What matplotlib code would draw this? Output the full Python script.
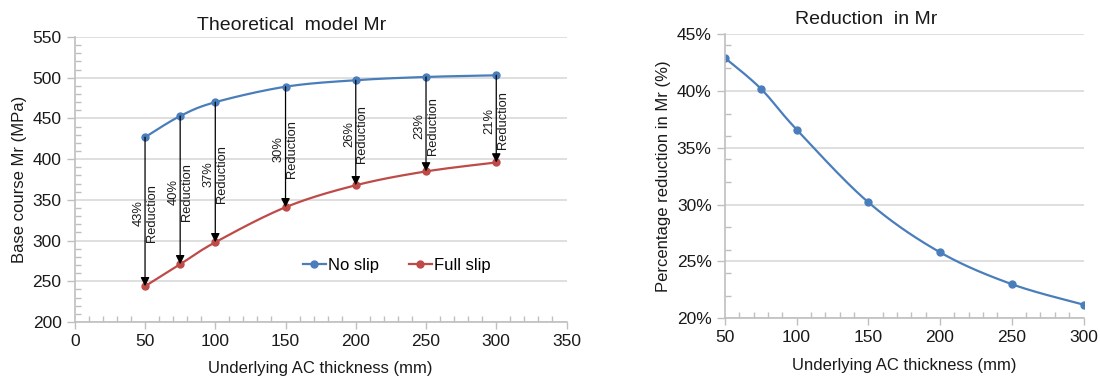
import numpy as np
import matplotlib.pyplot as plt
from matplotlib.ticker import MultipleLocator, PercentFormatter

plt.rcParams['font.family'] = ['Liberation Sans', 'DejaVu Sans']

thickness = [50, 75, 100, 150, 200, 250, 300]
no_slip = [427, 453, 470, 489, 497, 501, 503]
full_slip = [244, 271, 298, 341, 368, 385, 396]
reduction_pct = [42.9, 40.2, 36.6, 30.2, 25.8, 23.0, 21.2]

BLUE = '#4a7ebb'
RED = '#be4b48'
AXC = '#bfbfbf'
GRID = '#d9d9d9'
TXT = '#1a1a1a'


def smooth(x, y, n=30):
    # excel-like smoothed line (catmull-rom through the points)
    p = np.column_stack([x, y]).astype(float)
    p = np.vstack([p[0], p, p[-1]])
    out = []
    for i in range(1, len(p) - 2):
        p0, p1, p2, p3 = p[i - 1], p[i], p[i + 1], p[i + 2]
        t = np.linspace(0, 1, n)[:, None]
        c = 0.5 * ((2 * p1) + (-p0 + p2) * t + (2 * p0 - 5 * p1 + 4 * p2 - p3) * t ** 2
                   + (-p0 + 3 * p1 - 3 * p2 + p3) * t ** 3)
        out.append(c)
    c = np.vstack(out)
    return c[:, 0], c[:, 1]


def style_axes(ax):
    for s in ['top', 'right']:
        ax.spines[s].set_visible(False)
    for s in ['left', 'bottom']:
        ax.spines[s].set_color(AXC)
        ax.spines[s].set_linewidth(1.2)
    ax.grid(axis='y', color=GRID, lw=1.2)
    ax.set_axisbelow(True)
    ax.tick_params(which='major', direction='out', length=5, color=AXC, width=1,
                   labelsize=12.5, labelcolor=TXT)
    ax.tick_params(which='minor', direction='in', length=4, color=AXC, width=1)
    ax.tick_params(axis='y', which='major', length=6)


fig = plt.figure(figsize=(11, 3.78), dpi=100)

# ---- left: theoretical model
ax1 = fig.add_axes([0.068, 0.148, 0.447, 0.754])
style_axes(ax1)
sx, sy = smooth(thickness, no_slip)
ax1.plot(sx, sy, color=BLUE, lw=1.6)
ax1.plot(thickness, no_slip, 'o', color=BLUE, ms=5)
sx, sy = smooth(thickness, full_slip)
ax1.plot(sx, sy, color=RED, lw=1.6)
ax1.plot(thickness, full_slip, 'o', color=RED, ms=5)
# legend proxies
ax1.plot([], [], '-o', color=BLUE, ms=5, lw=1.6, label='No slip')
ax1.plot([], [], '-o', color=RED, ms=5, lw=1.6, label='Full slip')

for x, a, b in zip(thickness, no_slip, full_slip):
    ax1.annotate('', xy=(x, b), xytext=(x, a),
                 arrowprops=dict(arrowstyle='-|>', color='black', lw=0.9,
                                 mutation_scale=13, shrinkA=0, shrinkB=0))
    pct = (a - b) / a * 100
    ax1.text(x, (a + b) / 2 - 2, f'{pct:.0f}%\nReduction', rotation=90,
             ha='center', va='center', multialignment='center',
             fontsize=9.3, linespacing=1.15, color=TXT)

ax1.set_xlim(0, 350)
ax1.set_ylim(200, 550)
ax1.xaxis.set_major_locator(MultipleLocator(50))
ax1.xaxis.set_minor_locator(MultipleLocator(10))
ax1.yaxis.set_major_locator(MultipleLocator(50))
ax1.yaxis.set_minor_locator(MultipleLocator(10))
ax1.set_title('Theoretical  model Mr', fontsize=14, pad=5, color=TXT, x=0.44)
ax1.set_xlabel('Underlying AC thickness (mm)', fontsize=12, labelpad=9, color=TXT)
ax1.set_ylabel('Base course Mr (MPa)', fontsize=12, labelpad=4, color=TXT)
ax1.legend(loc='center', bbox_to_anchor=(0.655, 0.2), ncol=2, frameon=False,
           fontsize=12, handlelength=1.4, handletextpad=0.15, columnspacing=1.75)

# ---- right: reduction
ax2 = fig.add_axes([0.659, 0.158, 0.326, 0.752])
style_axes(ax2)
sx, sy = smooth(thickness, reduction_pct)
ax2.plot(sx, sy, color=BLUE, lw=1.6)
ax2.plot(thickness, reduction_pct, 'o', color=BLUE, ms=5)
ax2.set_xlim(50, 300)
ax2.set_ylim(20, 45)
ax2.xaxis.set_major_locator(MultipleLocator(50))
ax2.xaxis.set_minor_locator(MultipleLocator(10))
ax2.yaxis.set_major_locator(MultipleLocator(5))
ax2.yaxis.set_minor_locator(MultipleLocator(2))
ax2.yaxis.set_major_formatter(PercentFormatter(decimals=0))
ax2.set_title('Reduction  in Mr', fontsize=14, pad=7, color=TXT, x=0.393)
ax2.set_xlabel('Underlying AC thickness (mm)', fontsize=12, labelpad=9, color=TXT)
ax2.set_ylabel('Percentage reduction in Mr (%)', fontsize=12, labelpad=4, color=TXT)

fig.savefig('out.png', dpi=100)
